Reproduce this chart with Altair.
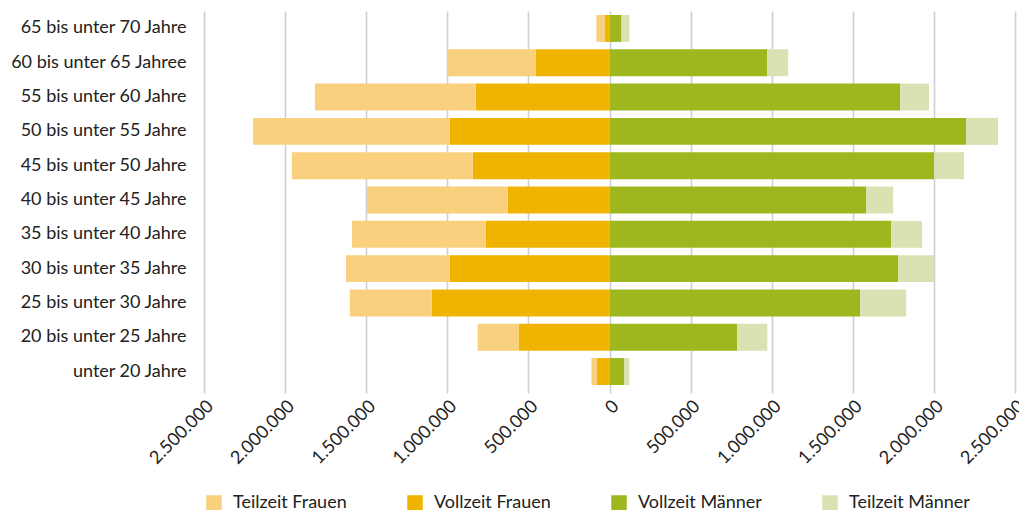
import altair as alt
import pandas as pd

categories = [
    "65 bis unter 70 Jahre",
    "60 bis unter 65 Jahree",
    "55 bis unter 60 Jahre",
    "50 bis unter 55 Jahre",
    "45 bis unter 50 Jahre",
    "40 bis unter 45 Jahre",
    "35 bis unter 40 Jahre",
    "30 bis unter 35 Jahre",
    "25 bis unter 30 Jahre",
    "20 bis unter 25 Jahre",
    "unter 20 Jahre",
]

teilzeit_frauen = [50000, 543000, 991000, 1213000, 1115000, 868000, 825000, 640000, 505000, 253000, 31000]
vollzeit_frauen = [31000, 456000, 825000, 985000, 843000, 628000, 763000, 985000, 1096000, 560000, 80000]
vollzeit_maenner = [74000, 973000, 1792000, 2198000, 2001000, 1582000, 1736000, 1779000, 1545000, 788000, 92000]
teilzeit_maenner = [49000, 129000, 178000, 197000, 185000, 167000, 191000, 222000, 284000, 185000, 31000]

series_names = ["Teilzeit Frauen", "Vollzeit Frauen", "Vollzeit Männer", "Teilzeit Männer"]
series_colors = ["#F8D07E", "#F0B300", "#9EB71F", "#DBE1B2"]

rows = []
for i, c in enumerate(categories):
    rows.append({"Alter": c, "Gruppe": "Vollzeit Frauen", "Wert": -vollzeit_frauen[i], "ord": 1})
    rows.append({"Alter": c, "Gruppe": "Teilzeit Frauen", "Wert": -teilzeit_frauen[i], "ord": 2})
    rows.append({"Alter": c, "Gruppe": "Vollzeit Männer", "Wert": vollzeit_maenner[i], "ord": 1})
    rows.append({"Alter": c, "Gruppe": "Teilzeit Männer", "Wert": teilzeit_maenner[i], "ord": 2})
df = pd.DataFrame(rows)

FONT = "Lato"
FS = 18
grid_color = "#CBD1D6"

chart = alt.Chart(df).mark_bar().encode(
    y=alt.Y(
        "Alter:N",
        sort=categories,
        title=None,
        scale=alt.Scale(paddingInner=0.215, paddingOuter=0.116),
        axis=alt.Axis(
            ticks=False, domain=False, grid=False,
            labelFont=FONT, labelFontSize=FS, labelColor="#222222",
            labelPadding=18,
        ),
    ),
    x=alt.X(
        "Wert:Q",
        stack="zero",
        title=None,
        scale=alt.Scale(domain=[-2500000, 2500000], nice=False),
        axis=alt.Axis(
            values=[-2500000, -2000000, -1500000, -1000000, -500000, 0,
                    500000, 1000000, 1500000, 2000000, 2500000],
            labelExpr="replace(format(abs(datum.value), ',d'), regexp(',', 'g'), '.')",
            labelAngle=-45,
            labelFont=FONT, labelFontSize=FS, labelColor="#222222",
            labelPadding=4,
            grid=True, gridColor=grid_color, gridWidth=1.6,
            domain=False,
            ticks=True, tickColor=grid_color, tickSize=4, tickWidth=1.6,
        ),
    ),
    color=alt.Color(
        "Gruppe:N",
        scale=alt.Scale(domain=series_names, range=series_colors),
        legend=alt.Legend(
            title=None,
            orient="none",
            legendX=1,
            legendY=483,
            direction="horizontal",
            columns=4,
            columnPadding=59,
            symbolType="square",
            symbolSize=240,
            symbolStrokeWidth=0,
            labelFont=FONT, labelFontSize=FS, labelColor="#222222",
            labelOffset=10,
            padding=0,
        ),
    ),
    order=alt.Order("ord:Q"),
).properties(
    width=811,
    height=378,
    padding={"left": 196, "top": 3, "right": 4, "bottom": 121},
    autosize=alt.AutoSizeParams(type="none"),
).configure_view(stroke=None)

chart.save("out.html", embed_options={"renderer": "svg", "actions": False})
